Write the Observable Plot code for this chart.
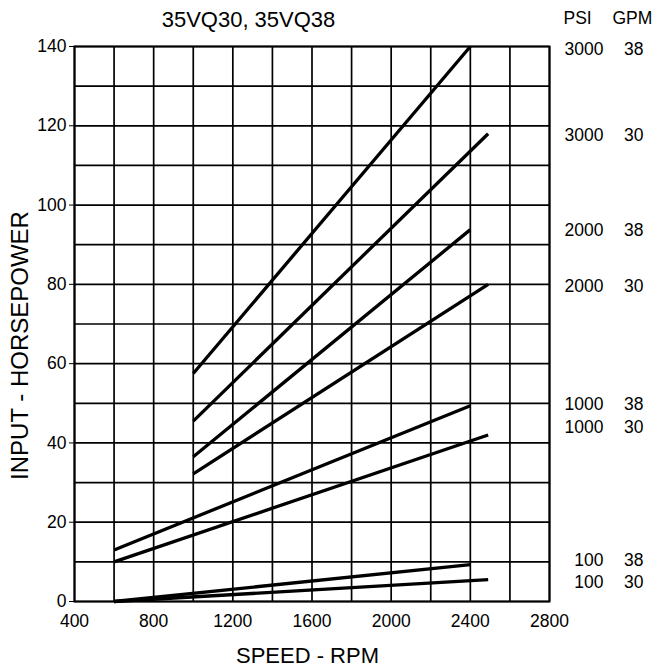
<!DOCTYPE html>
<html>
<head>
<meta charset="utf-8">
<script src="https://cdn.jsdelivr.net/npm/d3@7"></script>
<script src="https://cdn.jsdelivr.net/npm/@observablehq/plot@0.6"></script>
<style>
  html, body { margin: 0; padding: 0; background: #fff; }
  #chart svg { display: block; }
</style>
</head>
<body>
<div id="chart"></div>
<script>
// ---- data ----
const psi      = [3000, 3000, 2000, 2000, 1000, 1000, 100, 100];
const gpm      = [38, 30, 38, 30, 38, 30, 38, 30];
const rpmStart = [1000, 1000, 1000, 1000, 600, 600, 600, 600];
const rpmEnd   = [2400, 2490, 2400, 2490, 2400, 2490, 2400, 2490];
const hpStart  = [57.5, 45.5, 36.5, 32.2, 13, 10, 0, 0];
const hpEnd    = [140, 118, 93.8, 80, 49.4, 42, 9.3, 5.5];
const labelHp  = [139.2, 117.7, 93.6, 79.5, 49.6, 44.0, 10.3, 4.7];

const xTicks = [400, 800, 1200, 1600, 2000, 2400, 2800];
const yTicks = [0, 20, 40, 60, 80, 100, 120, 140];
const xGridTicks = [400, 600, 800, 1000, 1200, 1400, 1600, 1800, 2000, 2200, 2400, 2600, 2800];
const yGridTicks = [0, 10, 20, 30, 40, 50, 60, 70, 80, 90, 100, 110, 120, 130, 140];

const titleText = "35VQ30, 35VQ38";
const xTitle = "SPEED - RPM";
const yTitle = "INPUT - HORSEPOWER";
const headerPsi = "PSI";
const headerGpm = "GPM";

const series = psi.map((p, i) => ({
  psi: p, gpm: gpm[i],
  x1: rpmStart[i], y1: hpStart[i],
  x2: rpmEnd[i], y2: hpEnd[i],
  ly: labelHp[i]
}));

const chart = Plot.plot({
  width: 670,
  height: 668,
  marginLeft: 74,
  marginRight: 121,
  marginTop: 46,
  marginBottom: 67,
  style: { fontFamily: "'Liberation Sans', Arial, sans-serif", fontSize: "17px", background: "#fff", color: "#000" },
  x: { domain: [400, 2800], label: null },
  y: { domain: [0, 140], label: null },
  marks: [
    Plot.gridX(xGridTicks, { stroke: "#000", strokeOpacity: 1, strokeWidth: 1.7 }),
    Plot.gridY(yGridTicks, { stroke: "#000", strokeOpacity: 1, strokeWidth: 1.7 }),
    Plot.frame({ stroke: "#000", strokeWidth: 2 }),
    Plot.axisX({ ticks: xTicks, tickSize: 0, tickPadding: 13, fontSize: 17.5, label: null, tickFormat: d => String(d) }),
    Plot.axisY({ ticks: yTicks, tickSize: 5, tickPadding: 3, fontSize: 17.5, label: null, tickFormat: d => String(d) }),
    Plot.link(series, { x1: "x1", y1: "y1", x2: "x2", y2: "y2", stroke: "#000", strokeWidth: 3.3, strokeLinecap: "butt" }),
    // right-side labels
    Plot.text(series, { x: 2800, y: "ly", text: d => String(d.psi), dx: 54, textAnchor: "end", lineAnchor: "middle", fontSize: 17.5 }),
    Plot.text(series, { x: 2800, y: "ly", text: d => String(d.gpm), dx: 94, textAnchor: "end", lineAnchor: "middle", fontSize: 17.5 }),
    Plot.text([headerPsi], { frameAnchor: "top-right", dx: 14, dy: -28, textAnchor: "start", lineAnchor: "middle", fontSize: 17.5 }),
    Plot.text([headerGpm], { frameAnchor: "top-right", dx: 63, dy: -28, textAnchor: "start", lineAnchor: "middle", fontSize: 17.5 }),
    // title
    Plot.text([titleText], { frameAnchor: "top-left", dx: 174, dy: -27, textAnchor: "middle", lineAnchor: "middle", fontSize: 22, ariaLabel: "charttitle" }),
    // axis titles
    Plot.text([xTitle], { frameAnchor: "bottom", dx: -4.5, dy: 54, textAnchor: "middle", lineAnchor: "middle", fontSize: 22, ariaLabel: "xtitle" }),
    Plot.text([yTitle], { frameAnchor: "left", dx: -54, dy: 21.5, rotate: -90, textAnchor: "middle", lineAnchor: "middle", fontSize: 24, ariaLabel: "ytitle" })
  ]
});

document.getElementById("chart").appendChild(chart);

// fit title lengths to the reference proportions
const fit = (label, len) => {
  d3.select(chart).selectAll(`g[aria-label="${label}"] text`)
    .attr("textLength", len)
    .attr("lengthAdjust", "spacingAndGlyphs");
};
fit("charttitle", 155);
fit("xtitle", 163);
fit("ytitle", 324);
</script>
</body>
</html>
